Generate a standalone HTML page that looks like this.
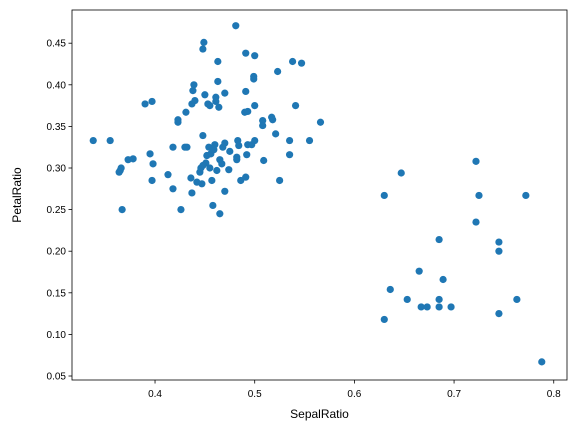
<!DOCTYPE html>
<html><head><meta charset="utf-8"><style>
body{margin:0;background:#fff;}
svg{display:block;font-family:"Liberation Sans","DejaVu Sans",sans-serif;}
</style></head><body>
<svg id="chart" width="576" height="432">
<rect x="0" y="0" width="576" height="432" fill="#fff"/>
<g id="marks"></g>
<rect x="72" y="10" width="495" height="370" fill="none" stroke="#000" stroke-width="0.8"/>
<g id="xticks"></g><g id="yticks"></g>
<text x="319.5" y="418" font-size="12" text-anchor="middle">SepalRatio</text>
<text x="21" y="195" font-size="12" text-anchor="middle" transform="rotate(-90 21 195)">PetalRatio</text>
</svg>
<script>
const sepalRatio = [0.338,0.355,0.365,0.366,0.364,0.367,0.373,0.378,0.390,0.397,0.395,0.398,0.397,0.413,0.418,0.418,0.423,0.423,0.426,0.431,0.432,0.436,0.437,0.437,0.438,0.439,0.440,0.442,0.445,0.446,0.447,0.448,0.449,0.448,0.450,0.451,0.452,0.453,0.454,0.455,0.456,0.457,0.458,0.459,0.460,0.461,0.461,0.462,0.463,0.463,0.464,0.465,0.465,0.467,0.468,0.470,0.470,0.474,0.481,0.482,0.482,0.483,0.484,0.486,0.490,0.491,0.491,0.491,0.492,0.493,0.493,0.497,0.499,0.499,0.500,0.500,0.500,0.508,0.508,0.509,0.517,0.518,0.521,0.523,0.525,0.535,0.535,0.538,0.541,0.547,0.555,0.566,0.455,0.448,0.430,0.470,0.475,
0.630,0.630,0.636,0.647,0.653,0.665,0.667,0.673,0.685,0.685,0.685,0.689,0.697,0.722,0.722,0.725,0.745,0.745,0.745,0.763,0.772,0.788];
const petalRatio = [0.333,0.333,0.297,0.300,0.295,0.250,0.310,0.311,0.377,0.380,0.317,0.305,0.285,0.292,0.275,0.325,0.358,0.355,0.250,0.367,0.325,0.288,0.270,0.377,0.393,0.400,0.381,0.283,0.295,0.300,0.281,0.443,0.451,0.339,0.388,0.306,0.315,0.377,0.325,0.300,0.317,0.285,0.255,0.322,0.328,0.385,0.380,0.297,0.428,0.404,0.373,0.245,0.310,0.305,0.325,0.390,0.272,0.298,0.471,0.313,0.310,0.333,0.327,0.285,0.367,0.289,0.392,0.438,0.316,0.368,0.328,0.328,0.410,0.407,0.435,0.375,0.333,0.357,0.351,0.309,0.361,0.358,0.341,0.416,0.285,0.333,0.316,0.428,0.375,0.426,0.333,0.355,0.375,0.303,0.325,0.330,0.320,
0.267,0.118,0.154,0.294,0.142,0.176,0.133,0.133,0.214,0.142,0.133,0.166,0.133,0.308,0.235,0.267,0.211,0.200,0.125,0.142,0.267,0.067];
const xTickLabels = ["0.4","0.5","0.6","0.7","0.8"];
const yTickLabels = ["0.05","0.10","0.15","0.20","0.25","0.30","0.35","0.40","0.45"];
const NS="http://www.w3.org/2000/svg";
const xMin=0.3167,xMax=0.8133,yMin=0.0452,yMax=0.4899;
const L=72,R=567,T=10,B=380;
function sx(v){return L+(v-xMin)/(xMax-xMin)*(R-L);}
function sy(v){return B-(v-yMin)/(yMax-yMin)*(B-T);}
const marks=document.getElementById('marks');
for(let i=0;i<sepalRatio.length;i++){
  const c=document.createElementNS(NS,'circle');
  c.setAttribute('cx',sx(sepalRatio[i]));c.setAttribute('cy',sy(petalRatio[i]));
  c.setAttribute('r',3.6);c.setAttribute('fill','#1f77b4');
  
  
  marks.appendChild(c);
}
const xt=document.getElementById('xticks');
xTickLabels.forEach(t=>{
  const x=sx(parseFloat(t));
  const l=document.createElementNS(NS,'line');
  l.setAttribute('x1',x);l.setAttribute('x2',x);l.setAttribute('y1',B);l.setAttribute('y2',B+3.5);l.setAttribute('stroke','#000');l.setAttribute('stroke-width','0.8');
  
  
  xt.appendChild(l);
  const s=document.createElementNS(NS,'text');
  s.setAttribute('x',x);s.setAttribute('y',B+17);s.setAttribute('font-size','10');s.setAttribute('text-anchor','middle');s.textContent=t;
  
  
  xt.appendChild(s);
});
const yt=document.getElementById('yticks');
yTickLabels.forEach(t=>{
  const y=sy(parseFloat(t));
  const l=document.createElementNS(NS,'line');
  l.setAttribute('x1',L-3.5);l.setAttribute('x2',L);l.setAttribute('y1',y);l.setAttribute('y2',y);l.setAttribute('stroke','#000');l.setAttribute('stroke-width','0.8');
  
  
  yt.appendChild(l);
  const s=document.createElementNS(NS,'text');
  s.setAttribute('x',L-6);s.setAttribute('y',y+3.5);s.setAttribute('font-size','10');s.setAttribute('text-anchor','end');s.textContent=t;
  
  
  yt.appendChild(s);
});
</script>
</body></html>
